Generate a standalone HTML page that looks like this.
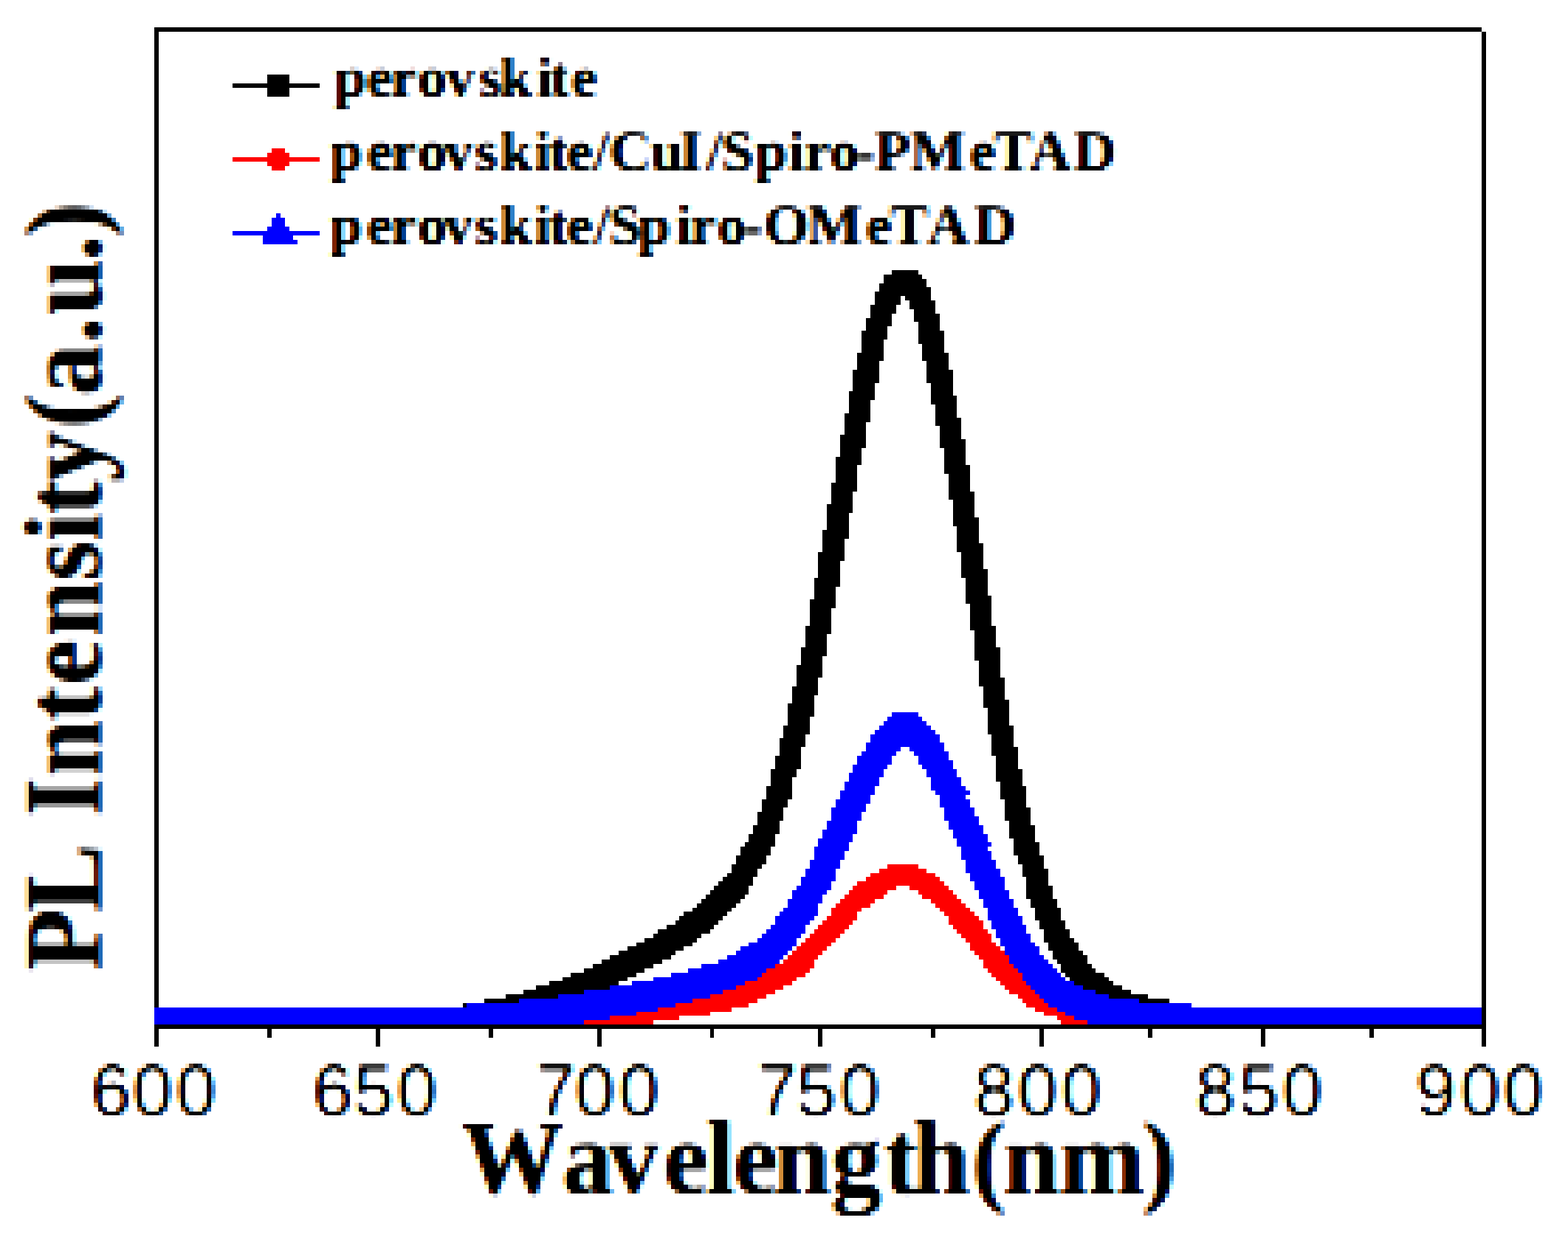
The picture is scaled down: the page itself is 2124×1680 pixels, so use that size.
<!DOCTYPE html>
<html lang="en">
<head>
<meta charset="utf-8">
<title>PL Intensity vs Wavelength</title>
<style>
html,body{margin:0;padding:0;background:#fff;}
body{width:2124px;height:1680px;overflow:hidden;}
svg{display:block;}
.g{shape-rendering:crispEdges;}
text{fill:#000;white-space:pre;}
.lg{font-family:"Liberation Serif","DejaVu Serif",serif;font-weight:bold;font-size:79.5px;}
.tk{font-family:"Liberation Sans","DejaVu Sans",sans-serif;font-size:101px;}
.ax{font-family:"Liberation Serif","DejaVu Serif",serif;font-weight:bold;font-size:138px;}
</style>
</head>
<body>
<svg xmlns="http://www.w3.org/2000/svg" width="2124" height="1680" viewBox="0 0 2124 1680">
<defs>
<filter id="flg" filterUnits="userSpaceOnUse" primitiveUnits="userSpaceOnUse" x="436" y="60" width="1090" height="300" color-interpolation-filters="sRGB">
<feOffset in="SourceAlpha" dx="2" dy="0" result="or"/><feOffset in="SourceAlpha" dx="-2" dy="0" result="ob"/>
<feColorMatrix in="or" type="matrix" values="0 0 0 1 0  0 0 0 0 0  0 0 0 0 0  0 0 0 0 1" result="dr"/>
<feColorMatrix in="SourceAlpha" type="matrix" values="0 0 0 0 0  0 0 0 1 0  0 0 0 0 0  0 0 0 0 1" result="dg"/>
<feColorMatrix in="ob" type="matrix" values="0 0 0 0 0  0 0 0 0 0  0 0 0 1 0  0 0 0 0 1" result="db"/>
<feComposite in="dr" in2="dg" operator="arithmetic" k1="0" k2="1" k3="1" k4="0" result="d1"/>
<feComposite in="d1" in2="db" operator="arithmetic" k1="0" k2="1" k3="1" k4="0" result="d"/>
<feConvolveMatrix in="d" order="10 1" kernelMatrix="1 1 2 2 3 3 2 2 1 1" divisor="18" targetX="2" targetY="0" edgeMode="duplicate" preserveAlpha="true" result="ch"/>
<feConvolveMatrix in="ch" order="1 6" kernelMatrix="1 1 1 1 1 1" divisor="6" targetX="0" targetY="0" edgeMode="duplicate" preserveAlpha="true" result="cv"/>
<feColorMatrix in="cv" type="matrix" values="-1.3506 -0.2506 -0.2506 0 1.3333  -0.2506 -1.3506 -0.2506 0 1.3333  -0.2506 -0.2506 -1.3506 0 1.3333  0 0 0 0 1" result="rgb"/>
<feFlood x="474" y="94" width="1" height="47" flood-color="#000" result="v0"/>
<feFlood x="480" y="94" width="1" height="47" flood-color="#000" result="v1"/>
<feFlood x="486" y="94" width="1" height="47" flood-color="#000" result="v2"/>
<feFlood x="491" y="94" width="1" height="47" flood-color="#000" result="v3"/>
<feFlood x="497" y="94" width="1" height="47" flood-color="#000" result="v4"/>
<feFlood x="503" y="94" width="1" height="47" flood-color="#000" result="v5"/>
<feFlood x="509" y="94" width="1" height="47" flood-color="#000" result="v6"/>
<feFlood x="515" y="94" width="1" height="47" flood-color="#000" result="v7"/>
<feMerge x="470" y="94" width="47" height="47" result="vc"><feMergeNode in="v0"/><feMergeNode in="v1"/><feMergeNode in="v2"/><feMergeNode in="v3"/><feMergeNode in="v4"/><feMergeNode in="v5"/><feMergeNode in="v6"/><feMergeNode in="v7"/></feMerge>
<feTile in="vc" result="vg"/>
<feConvolveMatrix in="vg" order="5 1" kernelMatrix="0.078431 0.062745 0.047059 0.031373 0.015686" divisor="1" targetX="4" targetY="0" edgeMode="none" preserveAlpha="false" result="vk"/>
<feColorMatrix in="vk" type="matrix" values="0 0 0 1 0.419608  0 0 0 0 0  0 0 0 0 0  0 0 0 0 1" result="mx"/>
<feFlood x="470" y="96" width="47" height="1" flood-color="#000" result="h0"/>
<feFlood x="470" y="101" width="47" height="1" flood-color="#000" result="h1"/>
<feFlood x="470" y="107" width="47" height="1" flood-color="#000" result="h2"/>
<feFlood x="470" y="113" width="47" height="1" flood-color="#000" result="h3"/>
<feFlood x="470" y="119" width="47" height="1" flood-color="#000" result="h4"/>
<feFlood x="470" y="125" width="47" height="1" flood-color="#000" result="h5"/>
<feFlood x="470" y="131" width="47" height="1" flood-color="#000" result="h6"/>
<feFlood x="470" y="137" width="47" height="1" flood-color="#000" result="h7"/>
<feMerge x="470" y="94" width="47" height="47" result="hc"><feMergeNode in="h0"/><feMergeNode in="h1"/><feMergeNode in="h2"/><feMergeNode in="h3"/><feMergeNode in="h4"/><feMergeNode in="h5"/><feMergeNode in="h6"/><feMergeNode in="h7"/></feMerge>
<feTile in="hc" result="hg"/>
<feConvolveMatrix in="hg" order="1 5" kernelMatrix="0.078431 0.062745 0.047059 0.031373 0.015686" divisor="1" targetX="0" targetY="4" edgeMode="none" preserveAlpha="false" result="hk"/>
<feColorMatrix in="hk" type="matrix" values="0 0 0 0 0  0 0 0 1 0.419608  0 0 0 0 0  0 0 0 0 1" result="my"/>
<feComposite in="mx" in2="my" operator="arithmetic" k1="0" k2="1" k3="1" k4="0" result="map"/>
<feDisplacementMap in="rgb" in2="map" scale="63.75" xChannelSelector="R" yChannelSelector="G"/>
</filter>
<filter id="ftk" filterUnits="userSpaceOnUse" primitiveUnits="userSpaceOnUse" x="112" y="1428" width="1996" height="87" color-interpolation-filters="sRGB">
<feOffset in="SourceAlpha" dx="2" dy="0" result="or"/><feOffset in="SourceAlpha" dx="-2" dy="0" result="ob"/>
<feColorMatrix in="or" type="matrix" values="0 0 0 1 0  0 0 0 0 0  0 0 0 0 0  0 0 0 0 1" result="dr"/>
<feColorMatrix in="SourceAlpha" type="matrix" values="0 0 0 0 0  0 0 0 1 0  0 0 0 0 0  0 0 0 0 1" result="dg"/>
<feColorMatrix in="ob" type="matrix" values="0 0 0 0 0  0 0 0 0 0  0 0 0 1 0  0 0 0 0 1" result="db"/>
<feComposite in="dr" in2="dg" operator="arithmetic" k1="0" k2="1" k3="1" k4="0" result="d1"/>
<feComposite in="d1" in2="db" operator="arithmetic" k1="0" k2="1" k3="1" k4="0" result="d"/>
<feConvolveMatrix in="d" order="10 1" kernelMatrix="1 1 2 2 3 3 2 2 1 1" divisor="18" targetX="2" targetY="0" edgeMode="duplicate" preserveAlpha="true" result="ch"/>
<feConvolveMatrix in="ch" order="1 6" kernelMatrix="1 1 1 1 1 1" divisor="6" targetX="0" targetY="0" edgeMode="duplicate" preserveAlpha="true" result="cv"/>
<feColorMatrix in="cv" type="matrix" values="-1.4000 -0.3000 -0.3000 0 1.5600  -0.3000 -1.4000 -0.3000 0 1.5600  -0.3000 -0.3000 -1.4000 0 1.5600  0 0 0 0 1" result="rgb"/>
<feFlood x="145" y="1457" width="1" height="47" flood-color="#000" result="v0"/>
<feFlood x="151" y="1457" width="1" height="47" flood-color="#000" result="v1"/>
<feFlood x="157" y="1457" width="1" height="47" flood-color="#000" result="v2"/>
<feFlood x="162" y="1457" width="1" height="47" flood-color="#000" result="v3"/>
<feFlood x="168" y="1457" width="1" height="47" flood-color="#000" result="v4"/>
<feFlood x="174" y="1457" width="1" height="47" flood-color="#000" result="v5"/>
<feFlood x="180" y="1457" width="1" height="47" flood-color="#000" result="v6"/>
<feFlood x="186" y="1457" width="1" height="47" flood-color="#000" result="v7"/>
<feMerge x="141" y="1457" width="47" height="47" result="vc"><feMergeNode in="v0"/><feMergeNode in="v1"/><feMergeNode in="v2"/><feMergeNode in="v3"/><feMergeNode in="v4"/><feMergeNode in="v5"/><feMergeNode in="v6"/><feMergeNode in="v7"/></feMerge>
<feTile in="vc" result="vg"/>
<feConvolveMatrix in="vg" order="5 1" kernelMatrix="0.078431 0.062745 0.047059 0.031373 0.015686" divisor="1" targetX="4" targetY="0" edgeMode="none" preserveAlpha="false" result="vk"/>
<feColorMatrix in="vk" type="matrix" values="0 0 0 1 0.419608  0 0 0 0 0  0 0 0 0 0  0 0 0 0 1" result="mx"/>
<feFlood x="141" y="1459" width="47" height="1" flood-color="#000" result="h0"/>
<feFlood x="141" y="1464" width="47" height="1" flood-color="#000" result="h1"/>
<feFlood x="141" y="1470" width="47" height="1" flood-color="#000" result="h2"/>
<feFlood x="141" y="1476" width="47" height="1" flood-color="#000" result="h3"/>
<feFlood x="141" y="1482" width="47" height="1" flood-color="#000" result="h4"/>
<feFlood x="141" y="1488" width="47" height="1" flood-color="#000" result="h5"/>
<feFlood x="141" y="1494" width="47" height="1" flood-color="#000" result="h6"/>
<feFlood x="141" y="1500" width="47" height="1" flood-color="#000" result="h7"/>
<feMerge x="141" y="1457" width="47" height="47" result="hc"><feMergeNode in="h0"/><feMergeNode in="h1"/><feMergeNode in="h2"/><feMergeNode in="h3"/><feMergeNode in="h4"/><feMergeNode in="h5"/><feMergeNode in="h6"/><feMergeNode in="h7"/></feMerge>
<feTile in="hc" result="hg"/>
<feConvolveMatrix in="hg" order="1 5" kernelMatrix="0.078431 0.062745 0.047059 0.031373 0.015686" divisor="1" targetX="0" targetY="4" edgeMode="none" preserveAlpha="false" result="hk"/>
<feColorMatrix in="hk" type="matrix" values="0 0 0 0 0  0 0 0 1 0.419608  0 0 0 0 0  0 0 0 0 1" result="my"/>
<feComposite in="mx" in2="my" operator="arithmetic" k1="0" k2="1" k3="1" k4="0" result="map"/>
<feDisplacementMap in="rgb" in2="map" scale="63.75" xChannelSelector="R" yChannelSelector="G"/>
</filter>
<filter id="fax" filterUnits="userSpaceOnUse" primitiveUnits="userSpaceOnUse" x="606" y="1515" width="1004" height="145" color-interpolation-filters="sRGB">
<feOffset in="SourceAlpha" dx="2" dy="0" result="or"/><feOffset in="SourceAlpha" dx="-2" dy="0" result="ob"/>
<feColorMatrix in="or" type="matrix" values="0 0 0 1 0  0 0 0 0 0  0 0 0 0 0  0 0 0 0 1" result="dr"/>
<feColorMatrix in="SourceAlpha" type="matrix" values="0 0 0 0 0  0 0 0 1 0  0 0 0 0 0  0 0 0 0 1" result="dg"/>
<feColorMatrix in="ob" type="matrix" values="0 0 0 0 0  0 0 0 0 0  0 0 0 1 0  0 0 0 0 1" result="db"/>
<feComposite in="dr" in2="dg" operator="arithmetic" k1="0" k2="1" k3="1" k4="0" result="d1"/>
<feComposite in="d1" in2="db" operator="arithmetic" k1="0" k2="1" k3="1" k4="0" result="d"/>
<feConvolveMatrix in="d" order="10 1" kernelMatrix="1 1 2 2 3 3 2 2 1 1" divisor="18" targetX="2" targetY="0" edgeMode="duplicate" preserveAlpha="true" result="ch"/>
<feConvolveMatrix in="ch" order="1 6" kernelMatrix="1 1 1 1 1 1" divisor="6" targetX="0" targetY="0" edgeMode="duplicate" preserveAlpha="true" result="cv"/>
<feColorMatrix in="cv" type="matrix" values="-1.3181 -0.2181 -0.2181 0 1.3158  -0.2181 -1.3181 -0.2181 0 1.3158  -0.2181 -0.2181 -1.3181 0 1.3158  0 0 0 0 1" result="rgb"/>
<feFlood x="615" y="1551" width="1" height="47" flood-color="#000" result="v0"/>
<feFlood x="621" y="1551" width="1" height="47" flood-color="#000" result="v1"/>
<feFlood x="627" y="1551" width="1" height="47" flood-color="#000" result="v2"/>
<feFlood x="632" y="1551" width="1" height="47" flood-color="#000" result="v3"/>
<feFlood x="638" y="1551" width="1" height="47" flood-color="#000" result="v4"/>
<feFlood x="644" y="1551" width="1" height="47" flood-color="#000" result="v5"/>
<feFlood x="650" y="1551" width="1" height="47" flood-color="#000" result="v6"/>
<feFlood x="656" y="1551" width="1" height="47" flood-color="#000" result="v7"/>
<feMerge x="611" y="1551" width="47" height="47" result="vc"><feMergeNode in="v0"/><feMergeNode in="v1"/><feMergeNode in="v2"/><feMergeNode in="v3"/><feMergeNode in="v4"/><feMergeNode in="v5"/><feMergeNode in="v6"/><feMergeNode in="v7"/></feMerge>
<feTile in="vc" result="vg"/>
<feConvolveMatrix in="vg" order="5 1" kernelMatrix="0.078431 0.062745 0.047059 0.031373 0.015686" divisor="1" targetX="4" targetY="0" edgeMode="none" preserveAlpha="false" result="vk"/>
<feColorMatrix in="vk" type="matrix" values="0 0 0 1 0.419608  0 0 0 0 0  0 0 0 0 0  0 0 0 0 1" result="mx"/>
<feFlood x="611" y="1553" width="47" height="1" flood-color="#000" result="h0"/>
<feFlood x="611" y="1558" width="47" height="1" flood-color="#000" result="h1"/>
<feFlood x="611" y="1564" width="47" height="1" flood-color="#000" result="h2"/>
<feFlood x="611" y="1570" width="47" height="1" flood-color="#000" result="h3"/>
<feFlood x="611" y="1576" width="47" height="1" flood-color="#000" result="h4"/>
<feFlood x="611" y="1582" width="47" height="1" flood-color="#000" result="h5"/>
<feFlood x="611" y="1588" width="47" height="1" flood-color="#000" result="h6"/>
<feFlood x="611" y="1594" width="47" height="1" flood-color="#000" result="h7"/>
<feMerge x="611" y="1551" width="47" height="47" result="hc"><feMergeNode in="h0"/><feMergeNode in="h1"/><feMergeNode in="h2"/><feMergeNode in="h3"/><feMergeNode in="h4"/><feMergeNode in="h5"/><feMergeNode in="h6"/><feMergeNode in="h7"/></feMerge>
<feTile in="hc" result="hg"/>
<feConvolveMatrix in="hg" order="1 5" kernelMatrix="0.078431 0.062745 0.047059 0.031373 0.015686" divisor="1" targetX="0" targetY="4" edgeMode="none" preserveAlpha="false" result="hk"/>
<feColorMatrix in="hk" type="matrix" values="0 0 0 0 0  0 0 0 1 0.419608  0 0 0 0 0  0 0 0 0 1" result="my"/>
<feComposite in="mx" in2="my" operator="arithmetic" k1="0" k2="1" k3="1" k4="0" result="map"/>
<feDisplacementMap in="rgb" in2="map" scale="63.75" xChannelSelector="R" yChannelSelector="G"/>
</filter>
<filter id="fay" filterUnits="userSpaceOnUse" primitiveUnits="userSpaceOnUse" x="20" y="264" width="160" height="1068" color-interpolation-filters="sRGB">
<feOffset in="SourceAlpha" dx="2" dy="0" result="or"/><feOffset in="SourceAlpha" dx="-2" dy="0" result="ob"/>
<feColorMatrix in="or" type="matrix" values="0 0 0 1 0  0 0 0 0 0  0 0 0 0 0  0 0 0 0 1" result="dr"/>
<feColorMatrix in="SourceAlpha" type="matrix" values="0 0 0 0 0  0 0 0 1 0  0 0 0 0 0  0 0 0 0 1" result="dg"/>
<feColorMatrix in="ob" type="matrix" values="0 0 0 0 0  0 0 0 0 0  0 0 0 1 0  0 0 0 0 1" result="db"/>
<feComposite in="dr" in2="dg" operator="arithmetic" k1="0" k2="1" k3="1" k4="0" result="d1"/>
<feComposite in="d1" in2="db" operator="arithmetic" k1="0" k2="1" k3="1" k4="0" result="d"/>
<feConvolveMatrix in="d" order="10 1" kernelMatrix="1 1 2 2 3 3 2 2 1 1" divisor="18" targetX="2" targetY="0" edgeMode="duplicate" preserveAlpha="true" result="ch"/>
<feConvolveMatrix in="ch" order="1 6" kernelMatrix="1 1 1 1 1 1" divisor="6" targetX="0" targetY="0" edgeMode="duplicate" preserveAlpha="true" result="cv"/>
<feColorMatrix in="cv" type="matrix" values="-1.1963 -0.0963 -0.0963 0 1.1111  -0.0963 -1.1963 -0.0963 0 1.1111  -0.0963 -0.0963 -1.1963 0 1.1111  0 0 0 0 1" result="rgb"/>
<feFlood x="51" y="282" width="1" height="47" flood-color="#000" result="v0"/>
<feFlood x="57" y="282" width="1" height="47" flood-color="#000" result="v1"/>
<feFlood x="63" y="282" width="1" height="47" flood-color="#000" result="v2"/>
<feFlood x="68" y="282" width="1" height="47" flood-color="#000" result="v3"/>
<feFlood x="74" y="282" width="1" height="47" flood-color="#000" result="v4"/>
<feFlood x="80" y="282" width="1" height="47" flood-color="#000" result="v5"/>
<feFlood x="86" y="282" width="1" height="47" flood-color="#000" result="v6"/>
<feFlood x="92" y="282" width="1" height="47" flood-color="#000" result="v7"/>
<feMerge x="47" y="282" width="47" height="47" result="vc"><feMergeNode in="v0"/><feMergeNode in="v1"/><feMergeNode in="v2"/><feMergeNode in="v3"/><feMergeNode in="v4"/><feMergeNode in="v5"/><feMergeNode in="v6"/><feMergeNode in="v7"/></feMerge>
<feTile in="vc" result="vg"/>
<feConvolveMatrix in="vg" order="5 1" kernelMatrix="0.078431 0.062745 0.047059 0.031373 0.015686" divisor="1" targetX="4" targetY="0" edgeMode="none" preserveAlpha="false" result="vk"/>
<feColorMatrix in="vk" type="matrix" values="0 0 0 1 0.419608  0 0 0 0 0  0 0 0 0 0  0 0 0 0 1" result="mx"/>
<feFlood x="47" y="284" width="47" height="1" flood-color="#000" result="h0"/>
<feFlood x="47" y="289" width="47" height="1" flood-color="#000" result="h1"/>
<feFlood x="47" y="295" width="47" height="1" flood-color="#000" result="h2"/>
<feFlood x="47" y="301" width="47" height="1" flood-color="#000" result="h3"/>
<feFlood x="47" y="307" width="47" height="1" flood-color="#000" result="h4"/>
<feFlood x="47" y="313" width="47" height="1" flood-color="#000" result="h5"/>
<feFlood x="47" y="319" width="47" height="1" flood-color="#000" result="h6"/>
<feFlood x="47" y="325" width="47" height="1" flood-color="#000" result="h7"/>
<feMerge x="47" y="282" width="47" height="47" result="hc"><feMergeNode in="h0"/><feMergeNode in="h1"/><feMergeNode in="h2"/><feMergeNode in="h3"/><feMergeNode in="h4"/><feMergeNode in="h5"/><feMergeNode in="h6"/><feMergeNode in="h7"/></feMerge>
<feTile in="hc" result="hg"/>
<feConvolveMatrix in="hg" order="1 5" kernelMatrix="0.078431 0.062745 0.047059 0.031373 0.015686" divisor="1" targetX="0" targetY="4" edgeMode="none" preserveAlpha="false" result="hk"/>
<feColorMatrix in="hk" type="matrix" values="0 0 0 0 0  0 0 0 1 0.419608  0 0 0 0 0  0 0 0 0 1" result="my"/>
<feComposite in="mx" in2="my" operator="arithmetic" k1="0" k2="1" k3="1" k4="0" result="map"/>
<feDisplacementMap in="rgb" in2="map" scale="63.75" xChannelSelector="R" yChannelSelector="G"/>
</filter>
</defs>
<rect width="2124" height="1680" fill="#fff"/>
<g filter="url(#flg)">
<text class="lg" transform="scale(1 0.995)" x="452.5 496.7 529.6 565.6 603.6 648.8 676.8 726.7 745.1 773.5" y="131.7">perovskite</text>
<text class="lg" transform="scale(1 0.995)" x="447.2 496.7 529.6 565.6 601.1 643 676.8 723.7 743.1 767.6 803.2 824.9 881 920.1 956.4 977 1022.5 1067.7 1089.6 1123.9 1159.6 1184.7 1232.7 1313.5 1346 1393.7 1454.2" y="232.2">perovskite/CuI/Spiro-PMeTAD</text>
<text class="lg" transform="scale(1 0.995)" x="447 496.5 529.6 565.6 601.1 643 676.8 723.7 743.1 767.6 804.2 824.7 864.2 915.5 935.1 971.6 1007.3 1034.4 1092.7 1172.8 1205 1255.7 1319" y="332.7">perovskite/Spiro-OMeTAD</text>
</g>
<g filter="url(#ftk)">
<text class="tk" transform="scale(0.98 1)" x="125.3 182.7 242.9" y="1511.6">600</text>
<text class="tk" transform="scale(0.98 1)" x="431.7 488 548.2" y="1511.6">650</text>
<text class="tk" transform="scale(0.98 1)" x="740.1 794.2 855.2" y="1511.6">700</text>
<text class="tk" transform="scale(0.98 1)" x="1045.8 1100.3 1160.5" y="1511.6">750</text>
<text class="tk" transform="scale(0.98 1)" x="1346.1 1406.4 1466.7" y="1511.6">800</text>
<text class="tk" transform="scale(0.98 1)" x="1652.1 1711.8 1772" y="1511.6">850</text>
<text class="tk" transform="scale(0.98 1)" x="1956.4 2018.1 2077.7" y="1511.6">900</text>
</g>
<g filter="url(#fax)">
<text class="ax" transform="scale(1 1.025)" x="625.4 761.4 823.5 898.6 957 993 1048.6 1125.6 1197.4 1237 1316.7 1358.9 1435.2 1547.3" y="1578">Wavelength(nm)</text>
</g>
<g filter="url(#fay)">
<text class="ax" transform="translate(136 1318) rotate(-90) scale(1 1.07)" x="2.6 82.2 174.2 211.6 265.7 341.5 390.3 454.8 531.5 584.1 621 665 738.2 782 853.8 890.9 964.8 997.2" y="0">PL Intensity(a.u.)</text>
</g>
<g class="g">
<!-- frame -->
<rect x="209" y="37" width="1798" height="6"/>
<rect x="209" y="37" width="6" height="1357"/>
<rect x="2007" y="43" width="6" height="1351"/>
<!-- data series -->
<path fill="#000" d="M1220 366h6v35h-6zM1226 366h6v41h-6zM1214 366h6v47h-6zM1232 366h6v53h-6zM1208 366h6v59h-6zM1238 366h6v70h-6zM1202 372h6v70h-6zM1197 372h5v88h-5zM1244 372h5v94h-5zM1249 378h6v111h-6zM1191 384h6v105h-6zM1255 389h6v130h-6zM1185 395h6v124h-6zM1261 407h6v141h-6zM1179 413h6v129h-6zM1267 425h6v152h-6zM1173 431h6v141h-6zM1167 448h6v159h-6zM1273 448h6v159h-6zM1161 478h6v152h-6zM1279 478h6v164h-6zM1155 501h6v165h-6zM1285 501h6v176h-6zM1150 530h5v165h-5zM1291 536h5v177h-5zM1144 560h6v170h-6zM1296 566h6v182h-6zM1138 589h6v171h-6zM1302 595h6v188h-6zM1132 619h6v176h-6zM1308 630h6v188h-6zM1126 654h6v170h-6zM1314 666h6v188h-6zM1120 683h6v176h-6zM1320 701h6v194h-6zM1114 718h6v171h-6zM1326 736h6v194h-6zM1108 748h6v170h-6zM1332 771h6v188h-6zM1103 783h5v159h-5zM1338 807h5v188h-5zM1097 812h6v159h-6zM1091 848h6v147h-6zM1343 848h6v176h-6zM1085 877h6v135h-6zM1349 877h6v182h-6zM1079 901h6v141h-6zM1355 918h6v165h-6zM1073 930h6v123h-6zM1361 948h6v164h-6zM1067 953h6v130h-6zM1061 983h6v111h-6zM1367 983h6v153h-6zM1056 1000h5v112h-5zM1373 1012h6v147h-6zM1050 1024h6v106h-6zM1044 1042h6v105h-6zM1379 1042h6v129h-6zM1038 1065h6v94h-6zM1385 1065h5v123h-5zM1032 1083h6v88h-6zM1390 1094h6v124h-6zM1026 1100h6v77h-6zM1020 1118h6v70h-6zM1396 1118h6v112h-6zM1014 1130h6v70h-6zM1009 1141h5v71h-5zM1402 1141h6v106h-6zM1003 1147h6v71h-6zM997 1159h6v65h-6zM1408 1159h6v100h-6zM991 1171h6v59h-6zM1414 1177h6v100h-6zM985 1183h6v52h-6zM979 1188h6v53h-6zM973 1194h6v53h-6zM967 1200h6v53h-6zM1420 1200h6v88h-6zM962 1206h5v53h-5zM956 1212h6v53h-6zM950 1218h6v47h-6zM1426 1218h6v82h-6zM944 1224h6v47h-6zM938 1230h6v47h-6zM1432 1230h5v76h-5zM926 1235h12v47h-12zM920 1241h6v47h-6zM915 1247h5v41h-5zM1437 1247h6v71h-6zM909 1253h6v41h-6zM903 1253h6v47h-6zM897 1259h6v41h-6zM891 1259h6v47h-6zM1443 1259h6v65h-6zM885 1265h6v41h-6zM873 1271h12v41h-12zM1449 1271h6v64h-6zM862 1277h11v41h-11zM1455 1277h6v64h-6zM850 1282h12v42h-12zM838 1288h12v41h-12zM1461 1288h6v59h-6zM826 1294h12v41h-12zM1467 1294h6v53h-6zM815 1300h11v41h-11zM803 1306h12v41h-12zM1473 1306h6v47h-6zM797 1312h6v35h-6zM791 1312h6v41h-6zM1479 1312h5v47h-5zM785 1318h6v35h-6zM773 1318h12v41h-12zM1484 1318h12v47h-12zM768 1324h5v35h-5zM762 1324h6v41h-6zM1496 1324h6v47h-6zM750 1329h12v36h-12zM744 1329h6v42h-6zM1502 1329h6v42h-6zM732 1335h12v36h-12zM726 1335h6v41h-6zM1508 1335h12v41h-12zM709 1341h17v35h-17zM1520 1341h12v35h-12zM685 1347h24v35h-24zM1532 1347h23v35h-23zM679 1353h6v29h-6zM1555 1353h6v29h-6zM656 1353h23v35h-23zM1561 1353h23v35h-23zM627 1359h29v29h-29zM1584 1359h30v29h-30zM621 1365h6v23h-6zM1614 1365h6v23h-6zM209 1376h412v12h-412zM1620 1376h387v12h-387z"/>
<path fill="#f00" d="M1214 1171h18v29h-18zM1202 1171h12v35h-12zM1232 1171h12v35h-12zM1197 1177h5v35h-5zM1244 1177h5v35h-5zM1191 1177h6v41h-6zM1249 1177h6v41h-6zM1185 1183h6v35h-6zM1255 1183h6v35h-6zM1179 1183h6v41h-6zM1261 1183h6v41h-6zM1173 1188h6v42h-6zM1267 1188h6v42h-6zM1167 1194h6v36h-6zM1161 1194h6v41h-6zM1273 1194h6v41h-6zM1279 1200h6v41h-6zM1155 1200h6v47h-6zM1150 1206h5v47h-5zM1285 1206h6v47h-6zM1144 1212h6v47h-6zM1291 1212h5v47h-5zM1138 1218h6v47h-6zM1296 1218h6v47h-6zM1132 1224h6v47h-6zM1302 1224h6v47h-6zM1126 1230h6v47h-6zM1308 1230h6v47h-6zM1314 1235h6v53h-6zM1120 1241h6v41h-6zM1320 1241h6v53h-6zM1114 1247h6v41h-6zM1326 1247h6v53h-6zM1108 1253h6v41h-6zM1103 1259h5v41h-5zM1332 1259h6v53h-6zM1097 1265h6v47h-6zM1338 1265h5v53h-5zM1091 1271h6v47h-6zM1085 1277h6v47h-6zM1343 1277h6v47h-6zM1079 1282h6v42h-6zM1349 1282h6v47h-6zM1073 1288h6v41h-6zM1355 1288h6v47h-6zM1067 1294h6v41h-6zM1361 1294h6v47h-6zM1061 1300h6v35h-6zM1367 1300h6v47h-6zM1050 1306h11v35h-11zM1373 1306h6v41h-6zM1038 1312h12v35h-12zM1032 1312h6v41h-6zM1379 1312h6v41h-6zM1026 1318h6v35h-6zM1385 1318h5v41h-5zM1014 1324h12v35h-12zM1390 1324h12v41h-12zM997 1329h17v36h-17zM1402 1329h6v42h-6zM991 1335h6v30h-6zM979 1335h12v36h-12zM1408 1335h6v36h-6zM1414 1335h6v41h-6zM962 1341h17v30h-17zM950 1341h12v35h-12zM1420 1341h12v35h-12zM920 1347h30v29h-30zM909 1347h11v35h-11zM1432 1347h5v35h-5zM1437 1347h12v41h-12zM885 1353h24v29h-24zM868 1353h17v35h-17zM1449 1353h6v35h-6zM862 1359h6v29h-6zM1455 1359h6v29h-6zM856 1365h6v23h-6zM1461 1365h6v23h-6zM1467 1371h6v17h-6zM209 1376h647v12h-647zM1473 1376h534v12h-534z"/>
<path fill="#00f" d="M1220 965h12v47h-12zM1214 965h6v53h-6zM1232 965h6v53h-6zM1208 965h6v59h-6zM1238 965h6v59h-6zM1202 971h6v65h-6zM1244 971h5v65h-5zM1197 977h5v65h-5zM1249 977h6v65h-6zM1191 983h6v70h-6zM1255 983h6v70h-6zM1185 989h6v76h-6zM1261 989h6v82h-6zM1179 995h6v82h-6zM1267 995h6v82h-6zM1173 1006h6v83h-6zM1273 1006h6v88h-6zM1167 1018h6v82h-6zM1279 1018h6v94h-6zM1161 1024h6v88h-6zM1285 1030h6v94h-6zM1155 1036h6v94h-6zM1291 1042h5v94h-5zM1150 1047h5v94h-5zM1296 1053h6v94h-6zM1144 1059h6v94h-6zM1302 1065h6v100h-6zM1308 1071h6v6h-6zM1138 1071h6v94h-6zM1132 1083h6v94h-6zM1308 1083h6v100h-6zM1126 1094h6v100h-6zM1314 1094h6v100h-6zM1320 1106h6v100h-6zM1120 1112h6v94h-6zM1326 1118h6v100h-6zM1114 1124h6v88h-6zM1332 1130h6v100h-6zM1108 1136h6v88h-6zM1338 1141h5v6h-5zM1103 1147h5v94h-5zM1338 1153h5v94h-5zM1097 1165h6v82h-6zM1343 1165h6v94h-6zM1091 1177h6v76h-6zM1349 1177h6v94h-6zM1085 1188h6v77h-6zM1355 1188h6v94h-6zM1079 1200h6v71h-6zM1073 1206h6v76h-6zM1361 1206h6v88h-6zM1067 1218h6v70h-6zM1367 1218h6v88h-6zM1061 1230h6v64h-6zM1373 1230h6v82h-6zM1056 1235h5v65h-5zM1050 1241h6v65h-6zM1379 1241h6v77h-6zM1044 1253h6v59h-6zM1385 1253h5v76h-5zM1038 1259h6v53h-6zM1032 1265h6v53h-6zM1390 1265h6v70h-6zM1026 1271h6v53h-6zM1014 1277h12v52h-12zM1396 1277h6v64h-6zM1009 1282h5v47h-5zM1003 1282h6v53h-6zM1402 1282h6v65h-6zM997 1288h6v47h-6zM985 1294h12v47h-12zM1408 1294h6v59h-6zM979 1300h6v41h-6zM973 1300h6v47h-6zM1414 1300h6v59h-6zM962 1306h11v41h-11zM950 1306h12v47h-12zM1420 1306h6v59h-6zM938 1312h12v41h-12zM932 1312h6v47h-6zM1426 1312h6v53h-6zM915 1318h17v41h-17zM909 1318h6v47h-6zM1432 1318h5v53h-5zM891 1324h18v41h-18zM885 1324h6v47h-6zM1437 1324h6v47h-6zM862 1329h23v42h-23zM856 1329h6v47h-6zM1443 1329h12v47h-12zM826 1335h30v41h-30zM1455 1335h12v47h-12zM791 1341h35v41h-35zM1467 1341h6v41h-6zM1473 1341h11v47h-11zM756 1347h35v41h-35zM1484 1347h18v41h-18zM703 1353h53v35h-53zM1502 1353h41v35h-41zM632 1359h71v29h-71zM1543 1359h71v29h-71zM209 1365h423v23h-423zM1614 1365h393v23h-393z"/>
<!-- bottom axis and ticks -->
<rect x="209" y="1388" width="1804" height="6"/>
<rect x="209" y="1388" width="6" height="30"/><rect x="509" y="1388" width="6" height="30"/><rect x="809" y="1388" width="6" height="30"/><rect x="1108" y="1388" width="6" height="30"/><rect x="1408" y="1388" width="6" height="30"/><rect x="1708" y="1388" width="6" height="30"/><rect x="2007" y="1388" width="6" height="30"/><rect x="362" y="1388" width="6" height="18"/><rect x="662" y="1388" width="6" height="18"/><rect x="962" y="1388" width="5" height="18"/><rect x="1261" y="1388" width="6" height="18"/><rect x="1555" y="1388" width="6" height="18"/><rect x="1855" y="1388" width="6" height="18"/>
<!-- legend symbols -->
<rect x="315" y="113" width="118" height="6"/>
<rect x="362" y="101" width="30" height="30"/>
<g fill="#f00"><rect x="315" y="213" width="118" height="6"/><path d="M368 201h18v6h6v18h-6v6h-18v-6h-6v-18h6z"/></g>
<g fill="#00f"><rect x="315" y="313" width="118" height="6"/><path d="M374 289h6v6h6v12h6v12h5v6h6v6h-47v-12h6v-12h6v-12h6z"/></g>
</g>
</svg>
</body>
</html>
